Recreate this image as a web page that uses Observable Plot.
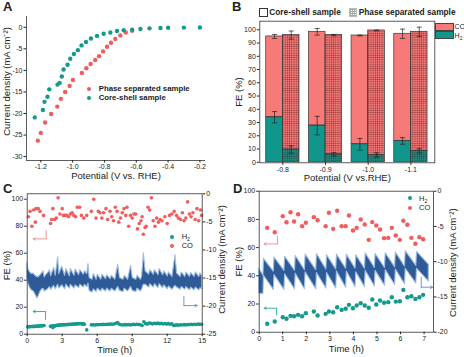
<!DOCTYPE html>
<html><head><meta charset="utf-8">
<script src="https://cdn.jsdelivr.net/npm/d3@7"></script>
<script src="https://cdn.jsdelivr.net/npm/@observablehq/plot@0.6"></script>
<style>
body{margin:0;background:#fff;}
#fig{position:relative;width:464px;height:357px;overflow:hidden;font-family:"Liberation Sans",Arial,sans-serif;color:#222;}
.panel{position:absolute;}
.lbl{position:absolute;white-space:nowrap;line-height:1;}
.letter{position:absolute;font-weight:bold;font-size:13px;line-height:1;}
.dotm{position:absolute;border-radius:50%;}
.box{position:absolute;box-sizing:border-box;}
</style></head><body><div id="fig"></div>
<script>
// ---------------- DATA ----------------
// Panel A: LSV
const aCSPot = [-1.238,-1.187,-1.177,-1.158,-1.147,-1.095,-1.082,-1.068,-1.057,-1.032,-1.015,-0.992,-0.967,-0.944,-0.916,-0.885,-0.847,-0.805,-0.763,-0.721,-0.679,-0.626,-0.574,-0.517,-0.448,-0.400,-0.301,-0.200];
const aCSCur = [-20.9,-19.2,-17.3,-16.1,-14.4,-13.3,-12.9,-11.4,-9.8,-8.7,-7.3,-6.2,-5.3,-4.2,-3.4,-2.6,-2.0,-1.5,-1.2,-0.85,-0.7,-0.55,-0.4,-0.25,-0.15,-0.1,-0.08,-0.05];
const aPSPot = [-1.219,-1.200,-1.173,-1.135,-1.097,-1.074,-1.047,-1.019,-0.998,-0.942,-0.914,-0.887,-0.858,-0.834,-0.809,-0.784,-0.759,-0.732,-0.700,-0.666,-0.626];
const aPSCur = [-26.3,-24.5,-22.1,-20.1,-18.4,-16.6,-15.0,-13.6,-12.2,-10.6,-9.5,-8.5,-7.6,-6.7,-5.6,-4.5,-3.6,-2.7,-1.9,-1.2,-0.8];
const aXTicks = [-1.2,-1.0,-0.8,-0.6,-0.4,-0.2];
const aYTicks = [0,-5,-10,-15,-20,-25,-30];

// Panel B: FE bars
const bPotentials = ["-0.8","-0.9","-1.0","-1.1"];
const bCS_H2 = [34, 27.7, 13.6, 16.1];
const bCS_H2err = [4.3, 7, 4.4, 2.5];
const bCS_total = [95, 98.5, 95.7, 97];
const bCS_totalErr = [1.5, 2.5, 0.3, 3.5];
const bPS_H2 = [9.6, 6, 5.5, 8.6];
const bPS_H2err = [2.8, 1.2, 1.6, 1.6];
const bPS_total = [96, 96, 99.5, 98.5];
const bPS_totalErr = [3.1, 0.5, 0.3, 3.5];
const bYTicks = [0,10,20,30,40,50,60,70,80,90,100];

// Panel C: 15 h stability
const cCOTime = [0.1,0.25,0.4,0.55,0.7,0.75,0.95,1.1,1.4,2.0,2.1,2.2,2.35,2.5,2.65,2.8,3.0,3.1,3.25,3.4,3.55,3.7,3.85,4.0,4.15,4.3,4.5,4.65,4.85,5.1,5.5,5.7,5.9,6.1,6.25,6.4,6.55,6.75,6.9,7.1,7.25,7.4,7.55,7.7,7.85,8.0,8.15,8.3,8.45,8.55,8.7,8.85,9.0,9.15,9.3,9.45,9.6,9.75,9.85,9.95,10.1,10.2,10.35,10.5,10.65,10.8,10.95,11.1,11.25,11.4,11.55,11.8,12.0,12.2,12.4,12.6,12.8,12.95,13.15,13.3,13.45,13.6,13.75,13.9,14.05,14.2,14.4,14.55,14.7,14.85,14.95];
const cCOFE = [87,91,80,92,83,93,93,91,88,82,85,93,85,86,101,89,93,88,88,88,87,89,90,88,87,94,94,88,86,88,91,100,86,91,90,86,90,93,85,91,87,84,94,91,83,86,90,93,88,94,80,88,86,89,89,78,82,84,87,74,79,80,94,92,101,84,80,86,83,85,84,87,82,88,89,91,88,86,85,90,84,86,98,89,87,90,85,93,84,92,88];
const cH2Time = [0.05,0.15,0.25,0.35,0.45,0.55,0.65,0.75,0.85,0.95,1.05,1.15,1.25,1.35,1.45,
 2.0,2.1,2.2,2.3,2.4,2.5,2.6,2.7,2.8,2.9,3.0,3.1,3.2,3.3,3.4,3.5,3.6,3.7,3.8,3.9,4.0,4.1,4.2,4.3,4.4,4.5,4.6,4.7,4.8,4.9,
 5.1,
 5.5,5.65,5.8,5.95,6.1,6.25,6.4,6.55,6.7,6.85,7.0,7.15,7.3,7.45,7.6,7.75,7.9,8.05,8.2,8.35,8.5,8.65,8.8,8.95,9.1,9.25,9.4,9.55,9.7,9.85,10.0,10.15,10.3,10.45,10.6,10.75,10.9,11.05,11.2,11.35,11.5,11.65,11.8,11.95,12.1,12.25,12.4,12.55,12.7,12.85,13.0,13.15,13.3,13.45,13.6,13.75,13.9,14.05,14.2,14.35,14.5,14.65,14.8,14.95];
const cH2FE = [5.4,5.6,5.5,5.7,5.8,5.6,5.9,6.0,5.8,6.1,6.0,6.2,6.1,6.3,6.4,
 5.8,6.2,4.9,6.4,6.0,6.6,6.5,6.9,6.7,7.0,6.8,7.1,6.9,7.2,7.0,7.3,7.2,7.4,7.3,7.6,7.4,7.7,7.5,7.8,7.6,7.9,7.7,7.5,7.8,7.3,
 3.2,
 6.9,7.0,6.8,7.1,7.0,7.2,7.1,7.3,7.2,7.4,7.3,7.5,7.4,7.6,8.1,8.6,7.4,7.0,6.8,7.1,6.9,7.2,6.8,7.0,7.3,7.1,7.4,7.2,7.0,6.4,9.2,7.8,7.5,8.3,8.0,7.6,8.1,7.8,8.2,7.7,8.0,7.6,7.9,7.5,7.8,7.4,7.7,6.5,6.7,6.9,6.6,7.0,6.8,7.1,6.9,7.2,7.0,7.3,7.1,7.4,7.2,7.5,7.3,7.4];
// current density trace, envelope (mA cm^-2)
const cTraceTime = [0.00,0.10,0.25,0.40,0.55,0.70,0.85,0.95,1.10,1.25,1.40,1.50,1.65,1.80,1.95,2.05,2.30,2.45,2.65,2.75,3.00,3.25,3.35,3.65,3.75,4.05,4.15,4.45,4.55,4.85,4.95,5.15,5.25,5.35,5.60,5.70,5.95,6.05,6.35,6.45,6.75,6.85,7.15,7.25,7.55,7.80,7.95,8.25,8.35,8.65,8.90,9.05,9.35,9.45,9.75,9.85,10.00,10.15,10.45,10.55,10.85,10.95,11.25,11.35,11.65,11.75,12.05,12.15,12.45,12.70,12.85,13.15,13.25,13.55,13.65,13.95,14.05,14.35,14.45,14.75,14.85,15.00];
const cTraceHi = [-12.3,-13.4,-14.0,-14.3,-14.2,-14.6,-14.8,-14.9,-14.6,-14.2,-13.8,-14.9,-14.4,-14.1,-13.6,-14.7,-13.2,-14.6,-11.3,-14.3,-13.0,-14.6,-13.4,-14.7,-13.4,-14.6,-13.5,-14.5,-13.6,-14.4,-13.8,-14.3,-12.5,-15.0,-15.3,-14.3,-15.3,-14.4,-15.3,-14.4,-15.2,-14.5,-15.2,-14.6,-15.3,-12.6,-15.0,-15.3,-14.6,-15.3,-12.8,-15.0,-15.3,-14.6,-15.3,-14.7,-10.6,-13.8,-14.4,-13.6,-14.4,-13.6,-14.5,-13.4,-14.5,-13.8,-14.7,-14.0,-14.8,-10.9,-14.2,-14.8,-14.0,-14.8,-14.0,-14.8,-14.1,-14.8,-14.0,-14.8,-14.2,-14.7];
const cTraceLo = [-15.0,-16.0,-16.8,-17.2,-17.4,-17.9,-18.6,-18.4,-17.6,-17.1,-16.9,-17.4,-17.2,-17.0,-16.6,-17.1,-16.4,-17.0,-16.2,-16.9,-16.3,-17.0,-16.2,-16.9,-16.2,-16.9,-16.3,-16.8,-16.2,-16.7,-16.2,-16.6,-16.0,-17.3,-17.6,-17.0,-17.5,-16.9,-17.4,-16.9,-17.4,-16.9,-17.4,-16.9,-17.4,-16.6,-17.3,-17.5,-16.9,-17.4,-16.6,-17.3,-17.5,-16.9,-17.4,-17.0,-16.2,-16.2,-16.7,-16.1,-16.7,-16.1,-16.8,-16.1,-16.8,-16.3,-17.0,-16.5,-17.1,-16.4,-16.7,-17.1,-16.6,-17.1,-16.6,-17.2,-16.7,-17.2,-16.7,-17.2,-16.8,-17.0];
const cTimeTicks = [0,3,6,9,12,15];
const cFETicks = [0,20,40,60,80,100];
const cJTicks = [0,-5,-10,-15,-20,-25];

// Panel D: 7 h stability
const dTime = [0.34,0.66,1.0,1.16,1.33,1.48,1.65,1.82,1.98,2.32,2.48,2.82,2.96,3.14,3.31,3.5,3.67,3.81,3.98,4.14,4.31,4.48,4.65,4.8,4.97,5.13,5.3,5.48,5.63,5.8,5.97,6.12,6.29,6.46,6.63,6.8,6.96];
const dCOFE = [74,70.9,82.3,78,85.1,78.5,83.7,75.2,77.6,81.6,79.4,75.2,84.7,73.3,86.1,75.2,75.2,82.8,72.1,74,79.9,76.4,65.5,78.1,75.7,72.8,66.7,66.9,74,68.6,65.5,79,76.2,66.9,62.7,67.4,65.9];
const dH2FE = [6,7.6,10.6,9.5,11.6,11.3,12.3,11.3,13.5,14.7,11.8,13,14.7,14.2,17.7,15.8,16.6,19.4,17,18.9,20.6,18.9,17.3,23.2,19.6,22.5,20.9,21.3,24.8,21.7,22,30,24.8,25.5,23.6,24.8,26.5];
const dTraceTime = [0.00,0.18,0.20,0.62,0.65,1.07,1.10,1.52,1.55,1.94,1.97,2.42,2.45,2.85,2.88,3.27,3.30,3.69,3.72,4.09,4.12,4.49,4.52,4.91,4.94,5.34,5.37,5.77,5.80,6.19,6.22,6.67,6.70,7.20];
const dTraceHi = [-11.0,-12.0,-9.6,-11.4,-9.4,-11.3,-9.3,-11.3,-9.2,-11.2,-9.0,-11.2,-8.9,-11.1,-9.1,-11.1,-9.0,-11.0,-9.0,-11.0,-9.1,-11.0,-8.8,-10.9,-8.9,-10.9,-8.8,-10.8,-8.7,-10.7,-8.5,-10.6,-8.6,-10.4];
const dTraceLo = [-14.5,-14.6,-12.0,-14.0,-11.9,-14.0,-11.8,-13.9,-11.7,-13.9,-11.5,-13.9,-11.6,-13.8,-11.6,-13.8,-11.4,-13.7,-11.4,-13.6,-11.5,-13.6,-11.3,-13.5,-11.3,-13.4,-11.2,-13.3,-11.1,-13.2,-11.0,-13.1,-11.0,-12.8];
const dTimeTicks = [0,1,2,3,4,5,6,7];
const dFETicks = [0,20,40,60,80,100];
const dJTicks = [0,-5,-10,-15,-20];

// annotation arrows (data units: [time, FE])
const cArrowCO = [[1.63,76.8],[1.63,70.6],[0.51,70.6]];
const cArrowH2 = [[1.57,10.9],[1.57,16.8],[0.51,16.8]];
const cArrowJ  = [[13.43,28.1],[13.43,21.2],[14.57,21.2]];
const dArrowCO = [[0.78,68],[0.78,62.6],[0.21,62.6]];
const dArrowH2 = [[0.74,12.3],[0.74,17],[0.21,17]];
const dArrowJ  = [[6.88,39],[6.88,31.9],[7.36,31.9]];

// ---------------- STYLE ----------------
const RED = "#f25c5c", TEAL = "#16998d", CO_FILL = "#f57a78", H2_FILL = "#10968b";
const BLUE = "#2e5b97", BLUE_L = "#9fbde2";
const FONT = "'Liberation Sans', Arial, sans-serif";
const base = {fontFamily: FONT, fontSize: "7px", color: "#222", background: "transparent", overflow: "visible"};
const fig = document.getElementById("fig");
function place(svg, left, top){ const d=document.createElement("div"); d.className="panel"; d.style.left=left+"px"; d.style.top=top+"px"; d.appendChild(svg); fig.appendChild(d); }
function label(html, x, yc, size, weight, extra){ const d=document.createElement("div"); d.className="lbl"; d.innerHTML=html; d.style.left=x+"px"; d.style.top=(yc-0.49*size)+"px"; d.style.fontSize=size+"px"; if(weight) d.style.fontWeight=weight; if(extra) Object.assign(d.style, extra); fig.appendChild(d); }
function dotm(cx, cy, r, color){ const d=document.createElement("div"); d.className="dotm"; Object.assign(d.style,{left:(cx-r)+"px",top:(cy-r)+"px",width:2*r+"px",height:2*r+"px",background:color}); fig.appendChild(d); }
function letter(t, x, y){ const d=document.createElement("div"); d.className="letter"; d.textContent=t; d.style.left=x+"px"; d.style.top=y+"px"; fig.appendChild(d); }
const T = (txt, opts) => Plot.text([txt], {text: d => d, fontSize: 9.5, fill: "#222", lineAnchor: "middle", ...opts});
function arrowMarks(pts, color){
  return [
    Plot.line(pts.slice(0,2), {x: d=>d[0], y: d=>d[1], stroke: color, strokeWidth: 0.9}),
    Plot.arrow([pts], {x1: d=>d[1][0], y1: d=>d[1][1], x2: d=>d[2][0], y2: d=>d[2][1], stroke: color, strokeWidth: 0.9, headLength: 4})
  ];
}

// ---------------- PANEL A ----------------
const aXDomain = [-1.29, -0.165], aYDomain = [-30.9, 2.5];
const A = Plot.plot({
  width: 232, height: 185, marginLeft: 26, marginRight: 27, marginTop: 16, marginBottom: 25,
  style: base,
  x: {domain: aXDomain}, y: {domain: aYDomain},
  marks: [
    Plot.ruleX([aXDomain[0]], {stroke: "#333", strokeWidth: 0.8}),
    Plot.ruleY([aYDomain[0]], {stroke: "#333", strokeWidth: 0.8}),
    Plot.axisX({ticks: aXTicks, tickSize: 2.5, tickPadding: 1.5, tickFormat: d => d.toFixed(1), label: null}),
    Plot.axisY({ticks: aYTicks, tickSize: 2.5, tickPadding: 1.5, tickFormat: d => String(d), label: null}),
    Plot.dot(aPSPot, {x: d => d, y: (d,i) => aPSCur[i], r: 2.2, fill: RED}),
    Plot.dot(aCSPot, {x: d => d, y: (d,i) => aCSCur[i], r: 2.2, fill: TEAL}),
    T("Current density (mA cm⁻²)", {frameAnchor: "left", dx: -20, dy: -7, rotate: -90, textAnchor: "middle"}),
    T("Potential (V vs. RHE)", {frameAnchor: "bottom", dy: 15})
  ]
});
place(A, 0, 0);

// ---------------- PANEL B ----------------
const bW = 0.39, bCap = 0.06;
const bRows = [];
bPotentials.forEach((p, i) => {
  bRows.push({i, s: "CS", h2: bCS_H2[i], h2e: bCS_H2err[i], tot: bCS_total[i], tote: bCS_totalErr[i]});
  bRows.push({i, s: "PS", h2: bPS_H2[i], h2e: bPS_H2err[i], tot: bPS_total[i], tote: bPS_totalErr[i]});
});
const bx1 = d => d.s === "CS" ? d.i - bW : d.i;
const bx2 = d => d.s === "CS" ? d.i : d.i + bW;
const bxc = d => (bx1(d) + bx2(d)) / 2;
const bXDomain = [-0.54, 3.56], bYDomain = [-0.4, 106.5];
const capMarks = (lo, hi) => [
  Plot.ruleX(bRows, {x: bxc, y1: lo, y2: hi, stroke: "#222", strokeWidth: 0.7}),
  Plot.link(bRows, {x1: d => bxc(d) - bCap, x2: d => bxc(d) + bCap, y1: hi, y2: hi, stroke: "#222", strokeWidth: 0.7}),
  Plot.link(bRows, {x1: d => bxc(d) - bCap, x2: d => bxc(d) + bCap, y1: lo, y2: lo, stroke: "#222", strokeWidth: 0.7})
];
const B = Plot.plot({
  width: 232, height: 185, marginLeft: 27.3, marginRight: 29.7, marginTop: 20.7, marginBottom: 22.7,
  style: base,
  x: {domain: bXDomain}, y: {domain: bYDomain},
  marks: [
    Plot.rect(bRows, {x1: bx1, x2: bx2, y1: 0, y2: d => d.h2, fill: H2_FILL}),
    Plot.rect(bRows, {x1: bx1, x2: bx2, y1: d => d.h2, y2: d => d.tot, fill: CO_FILL}),
    Plot.rect(bRows.filter(d => d.s === "PS"), {x1: bx1, x2: bx2, y1: 0, y2: d => d.tot, fill: "url(#bgrid)"}),
    Plot.rect(bRows, {x1: bx1, x2: bx2, y1: 0, y2: d => d.h2, fill: "none", stroke: "#3a3a3a", strokeWidth: 0.7}),
    Plot.rect(bRows, {x1: bx1, x2: bx2, y1: d => d.h2, y2: d => d.tot, fill: "none", stroke: "#3a3a3a", strokeWidth: 0.7}),
    ...capMarks(d => d.h2 - d.h2e, d => d.h2 + d.h2e),
    ...capMarks(d => d.tot - d.tote, d => d.tot + d.tote),
    Plot.frame({stroke: "#333", strokeWidth: 0.8}),
    Plot.axisX({ticks: [0,1,2,3], tickFormat: i => bPotentials[i], tickSize: 2.5, tickPadding: 1.5, label: null}),
    Plot.axisY({ticks: bYTicks, tickSize: 2.5, tickPadding: 1.5, label: null}),
    T("FE (%)", {frameAnchor: "left", dx: -20.6, rotate: -90, textAnchor: "middle"}),
    T("Potential (V vs.RHE)", {frameAnchor: "bottom", dy: 15.5})
  ]
});
const defs = document.createElementNS("http://www.w3.org/2000/svg", "defs");
defs.innerHTML = '<pattern id="bgrid" width="2.2" height="2.2" patternUnits="userSpaceOnUse"><path d="M0 0.4H2.2M0.4 0V2.2" stroke="rgba(70,10,10,0.42)" stroke-width="0.6" fill="none"/></pattern>';
B.insertBefore(defs, B.firstChild);
place(B, 232, 0);

// ---------------- PANEL C ----------------
const cTimeDomain = [0, 15], cFEDomain = [0, 104], cJDomain = [-25, 0];
const cFE = j => (j - cJDomain[0]) / (cJDomain[1] - cJDomain[0]) * (cFEDomain[1] - cFEDomain[0]) + cFEDomain[0];
const cJ = v => (v - cFEDomain[0]) / (cFEDomain[1] - cFEDomain[0]) * (cJDomain[1] - cJDomain[0]) + cJDomain[0];
const C = Plot.plot({
  width: 232, height: 182, marginLeft: 26.7, marginRight: 30.3, marginTop: 18.3, marginBottom: 23.3,
  style: base,
  x: {domain: cTimeDomain}, y: {domain: cFEDomain},
  marks: [
    Plot.area(cTraceTime, {x1: d => d, y1: (d,i) => cFE(cTraceLo[i]), y2: (d,i) => cFE(cTraceHi[i]), fill: BLUE, stroke: BLUE_L, strokeWidth: 1.1}),
    Plot.dot(cH2Time, {x: d => d, y: (d,i) => cH2FE[i], r: 1.8, fill: TEAL}),
    Plot.dot(cCOTime, {x: d => d, y: (d,i) => cCOFE[i], r: 1.8, fill: RED}),
    ...arrowMarks(cArrowCO, "#f08a8a"),
    ...arrowMarks(cArrowH2, "#2aa89c"),
    ...arrowMarks(cArrowJ, "#5b8fd0"),
    Plot.frame({stroke: "#333", strokeWidth: 0.8}),
    Plot.axisX({ticks: cTimeTicks, tickSize: 2.5, tickPadding: 1, label: null}),
    Plot.axisY({ticks: cFETicks, tickSize: 2.5, tickPadding: 1.5, label: null}),
    Plot.axisY({anchor: "right", ticks: cJTicks.map(cFE), tickFormat: v => String(Math.round(cJ(v))), tickSize: 2.5, tickPadding: 1.5, label: null}),
    T("FE (%)", {frameAnchor: "left", dx: -20.7, dy: 1.5, rotate: -90, textAnchor: "middle"}),
    T("Current density (mA cm⁻²)", {frameAnchor: "right", dx: 20, dy: -4.5, rotate: -90, textAnchor: "middle"}),
    T("Time (h)", {frameAnchor: "bottom", dy: 15.3})
  ]
});
place(C, 0, 175);

// ---------------- PANEL D ----------------
const dTimeDomain = [0, 7.4], dFEDomain = [0, 100], dJDomain = [-20, 0];
const dFE = j => (j - dJDomain[0]) / (dJDomain[1] - dJDomain[0]) * (dFEDomain[1] - dFEDomain[0]) + dFEDomain[0];
const dJ = v => (v - dFEDomain[0]) / (dFEDomain[1] - dFEDomain[0]) * (dJDomain[1] - dJDomain[0]) + dJDomain[0];
const D = Plot.plot({
  width: 232, height: 182, marginLeft: 26.7, marginRight: 31, marginTop: 15.7, marginBottom: 25.3,
  style: base,
  x: {domain: dTimeDomain}, y: {domain: dFEDomain},
  marks: [
    Plot.area(dTraceTime, {x1: d => d, y1: (d,i) => dFE(dTraceLo[i]), y2: (d,i) => dFE(dTraceHi[i]), fill: BLUE, stroke: BLUE_L, strokeWidth: 1.1}),
    Plot.dot(dTime, {x: d => d, y: (d,i) => dH2FE[i], r: 2.2, fill: TEAL}),
    Plot.dot(dTime, {x: d => d, y: (d,i) => dCOFE[i], r: 2.2, fill: RED}),
    ...arrowMarks(dArrowCO, "#f08a8a"),
    ...arrowMarks(dArrowH2, "#2aa89c"),
    ...arrowMarks(dArrowJ, "#5b8fd0"),
    Plot.frame({stroke: "#333", strokeWidth: 0.8}),
    Plot.axisX({ticks: dTimeTicks, tickSize: 2.5, tickPadding: 1, label: null}),
    Plot.axisY({ticks: dFETicks, tickSize: 2.5, tickPadding: 1.5, label: null}),
    Plot.axisY({anchor: "right", ticks: dJTicks.map(dFE), tickFormat: v => String(Math.round(dJ(v))), tickSize: 2.5, tickPadding: 1.5, label: null}),
    T("FE (%)", {frameAnchor: "left", dx: -20.7, rotate: -90, textAnchor: "middle"}),
    T("Current density (mA cm⁻²)", {frameAnchor: "right", dx: 19, dy: 1, rotate: -90, textAnchor: "middle"}),
    T("Time (h)", {frameAnchor: "bottom", dy: 17})
  ]
});
place(D, 232, 175);

// ---------------- LEGENDS & LETTERS ----------------
letter("A", 3, 0); letter("B", 232, 0); letter("C", 3, 181.6); letter("D", 233, 181.6);
// A legend
dotm(89.3, 89.3, 2.2, RED); label("Phase separated sample", 98.7, 89.3, 7.8, "bold");
dotm(89.3, 97.7, 2.2, TEAL); label("Core-shell sample", 98.7, 97.7, 7.8, "bold");
// B legend
(function(){
  const b1=document.createElement("div"); b1.className="box"; Object.assign(b1.style,{left:"259.3px",top:"8.3px",width:"8.4px",height:"8.4px",border:"1px solid #333",background:"#fff"}); fig.appendChild(b1);
  const b2=document.createElement("div"); b2.className="box"; Object.assign(b2.style,{left:"349.3px",top:"8.3px",width:"8px",height:"8.4px",border:"0.6px solid #bbb",backgroundImage:"linear-gradient(#aaa 0.6px, transparent 0.6px), linear-gradient(90deg, #aaa 0.6px, transparent 0.6px)",backgroundSize:"2px 2px"}); fig.appendChild(b2);
  const c1=document.createElement("div"); c1.className="box"; Object.assign(c1.style,{left:"435.3px",top:"22.7px",width:"18.4px",height:"8px",border:"0.8px solid #444",background:CO_FILL}); fig.appendChild(c1);
  const c2=document.createElement("div"); c2.className="box"; Object.assign(c2.style,{left:"435.3px",top:"31.2px",width:"18.4px",height:"7.6px",border:"0.8px solid #444",background:H2_FILL}); fig.appendChild(c2);
})();
label("Core-shell sample", 269.3, 12.5, 8.3, "bold");
label("Phase separated sample", 358.7, 12.5, 8.3, "bold");
label("CO", 454.6, 26.5, 7);
label("H<sub style='font-size:70%;vertical-align:-1.5px'>2</sub>", 454.6, 35, 7);
// C legend
dotm(172.3, 236.7, 1.9, TEAL); label("H<sub style='font-size:70%;vertical-align:-1.5px'>2</sub>", 181.7, 236.7, 7.5);
dotm(172.3, 246, 1.9, RED); label("CO", 181.7, 246, 7.5);
// D legend
dotm(410, 198.3, 2.2, TEAL); label("H<sub style='font-size:70%;vertical-align:-1.5px'>2</sub>", 419, 198.3, 7.5);
dotm(410, 207.7, 2.2, RED); label("CO", 419, 207.7, 7.5);
</script></body></html>
